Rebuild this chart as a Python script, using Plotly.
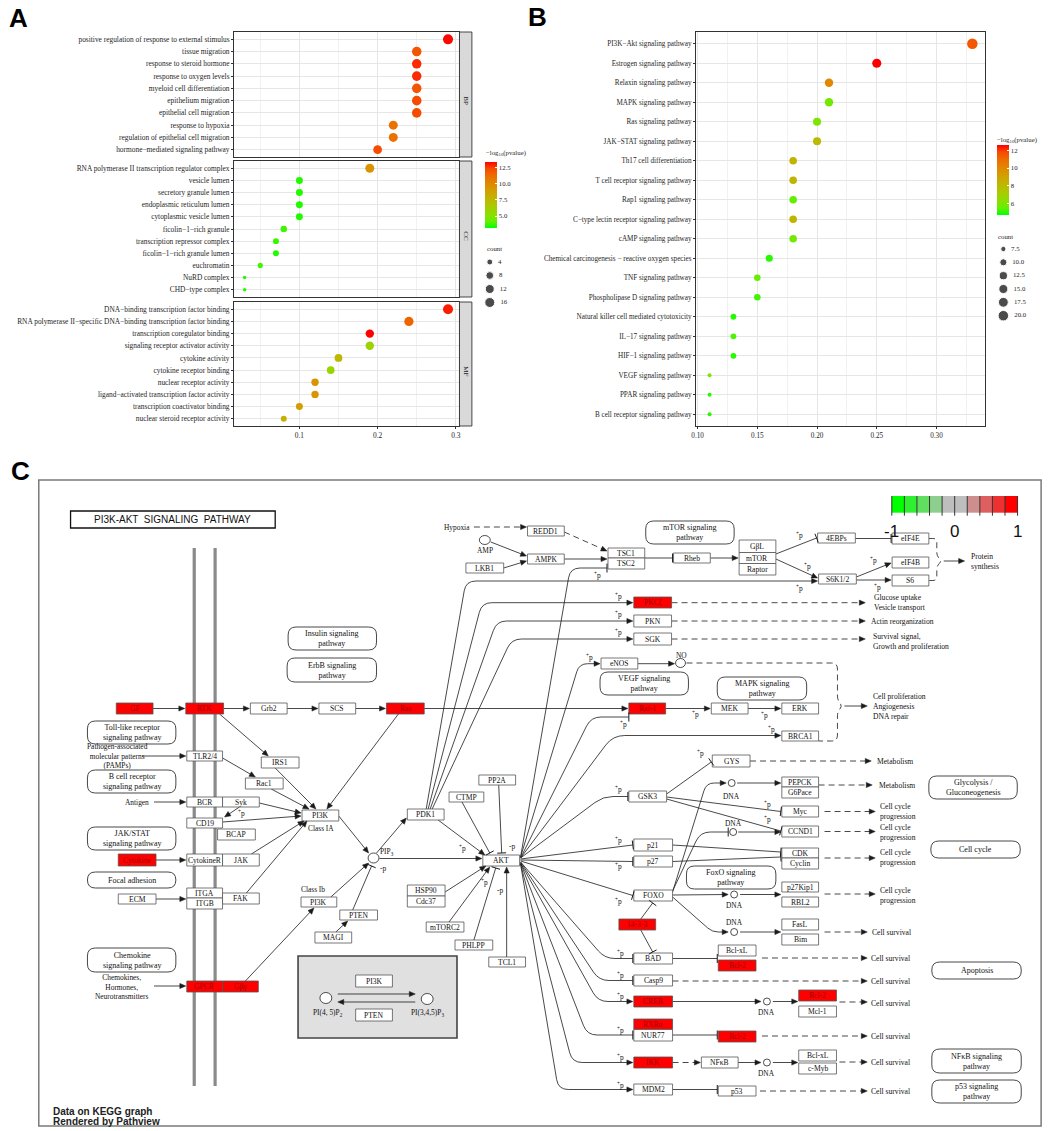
import math
import plotly.graph_objects as go

W, H = 1059, 1131
SERIF = "Liberation Serif"
SANS = "Liberation Sans"

# ====================== DATA: Panel A (GO enrichment) ======================
bp_terms = ["positive regulation of response to external stimulus", "tissue migration",
            "response to steroid hormone", "response to oxygen levels", "myeloid cell differentiation",
            "epithelium migration", "epithelial cell migration", "response to hypoxia",
            "regulation of epithelial cell migration", "hormone\u2212mediated signaling pathway"]
bp_ratio = [0.29, 0.25, 0.25, 0.25, 0.25, 0.25, 0.25, 0.22, 0.22, 0.20]
bp_logp = [13.3, 12.0, 12.8, 12.8, 12.0, 12.3, 12.3, 11.0, 11.0, 12.3]
bp_count = [16, 14, 14, 14, 14, 14, 14, 12, 12, 11]

cc_terms = ["RNA polymerase II transcription regulator complex", "vesicle lumen", "secretory granule lumen",
            "endoplasmic reticulum lumen", "cytoplasmic vesicle lumen", "ficolin\u22121\u2212rich granule",
            "transcription repressor complex", "ficolin\u22121\u2212rich granule lumen", "euchromatin",
            "NuRD complex", "CHD\u2212type complex"]
cc_ratio = [0.19, 0.10, 0.10, 0.10, 0.10, 0.08, 0.07, 0.07, 0.05, 0.03, 0.03]
cc_logp = [9.5, 3.5, 3.5, 3.5, 3.5, 3.8, 3.7, 3.5, 3.8, 3.5, 3.5]
cc_count = [12, 6, 6, 6, 6, 5, 4, 4, 3, 2, 2]

mf_terms = ["DNA\u2212binding transcription factor binding",
            "RNA polymerase II\u2212specific DNA\u2212binding transcription factor binding",
            "transcription coregulator binding", "signaling receptor activator activity", "cytokine activity",
            "cytokine receptor binding", "nuclear receptor activity",
            "ligand\u2212activated transcription factor activity", "transcription coactivator binding",
            "nuclear steroid receptor activity"]
mf_ratio = [0.29, 0.24, 0.19, 0.19, 0.15, 0.14, 0.12, 0.12, 0.10, 0.08]
mf_logp = [13.0, 11.5, 13.4, 6.0, 7.5, 5.8, 9.5, 9.5, 9.0, 8.0]
mf_count = [16, 13, 10, 10, 8, 8, 7, 7, 6, 4]

a_color_range = [3.15, 13.4]
a_color_ticks = [5.0, 7.5, 10.0, 12.5]
a_size_breaks = [4, 8, 12, 16]
a_x_ticks = [0.1, 0.2, 0.3]

# ====================== DATA: Panel B (KEGG enrichment) ======================
kegg_terms = ["PI3K\u2212Akt signaling pathway", "Estrogen signaling pathway", "Relaxin signaling pathway",
              "MAPK signaling pathway", "Ras signaling pathway", "JAK\u2212STAT signaling pathway",
              "Th17 cell differentiation", "T cell receptor signaling pathway", "Rap1 signaling pathway",
              "C\u2212type lectin receptor signaling pathway", "cAMP signaling pathway",
              "Chemical carcinogenesis \u2212 reactive oxygen species", "TNF signaling pathway",
              "Phospholipase D signaling pathway", "Natural killer cell mediated cytotoxicity",
              "IL\u221217 signaling pathway", "HIF\u22121 signaling pathway", "VEGF signaling pathway",
              "PPAR signaling pathway", "B cell receptor signaling pathway"]
kegg_ratio = [0.33, 0.25, 0.21, 0.21, 0.20, 0.20, 0.18, 0.18, 0.18, 0.18, 0.18, 0.16, 0.15, 0.15,
              0.13, 0.13, 0.13, 0.11, 0.11, 0.11]
kegg_logp = [11.5, 12.6, 10.0, 5.8, 6.0, 8.0, 8.2, 8.2, 5.5, 8.2, 5.8, 5.0, 5.5, 5.2, 5.0, 5.3, 5.0,
             6.0, 5.0, 5.0]
kegg_count = [20, 15, 13, 13, 12, 12, 11, 11, 11, 11, 11, 10, 9, 9, 8, 8, 8, 7, 7, 7]
b_color_range = [4.7, 12.6]
b_color_ticks = [6, 8, 10, 12]
b_size_breaks = [7.5, 10.0, 12.5, 15.0, 17.5, 20.0]
b_x_ticks = [0.10, 0.15, 0.20, 0.25, 0.30]

# ====================== DATA: Panel C (Pathview KEGG map) ======================
# (label, highlighted)  -- highlighted genes drawn red
kegg_nodes = [
    ("GF", 1), ("RTK", 1), ("Grb2", 0), ("SCS", 0), ("Ras", 1), ("Raf-1", 1), ("MEK", 0), ("ERK", 0),
    ("BRCA1", 0), ("TLR2/4", 0), ("IRS1", 0), ("Rac1", 0), ("BCR", 0), ("Syk", 0), ("CD19", 0),
    ("BCAP", 0), ("PI3K", 0), ("CytokineR", 0), ("JAK", 0), ("Cytokine", 1), ("ECM", 0), ("ITGA", 0),
    ("ITGB", 0), ("FAK", 0), ("PI3K", 0), ("PTEN", 0), ("MAGI", 0), ("GPCR", 1), ("G\u03b2\u03b3", 1),
    ("REDD1", 0), ("AMPK", 0), ("LKB1", 0), ("TSC1", 0), ("TSC2", 0), ("Rheb", 0), ("G\u03b2L", 0),
    ("mTOR", 0), ("Raptor", 0), ("4EBPs", 0), ("eIF4E", 0), ("eIF4B", 0), ("S6K1/2", 0), ("S6", 0),
    ("PKC\u03b6", 1), ("PKN", 0), ("SGK", 0), ("eNOS", 0), ("GYS", 0), ("PP2A", 0), ("CTMP", 0),
    ("GSK3", 0), ("PEPCK", 0), ("G6Pace", 0), ("PDK1", 0), ("AKT", 0), ("HSP90", 0), ("Cdc37", 0),
    ("mTORC2", 0), ("PHLPP", 0), ("TCL1", 0), ("p21", 0), ("p27", 0), ("FOXO", 0), ("14-3-3", 1),
    ("BAD", 0), ("Casp9", 0), ("CREB", 1), ("RXR\u03b1", 1), ("NUR77", 0), ("IKK", 1), ("MDM2", 0),
    ("NF\u03baB", 0), ("p53", 0), ("Myc", 0), ("CCND1", 0), ("CDK", 0), ("Cyclin", 0), ("p27Kip1", 0),
    ("RBL2", 0), ("FasL", 0), ("Bim", 0), ("Bcl-xL", 0), ("Bcl-2", 1), ("Bcl-2", 1), ("Mcl-1", 0),
    ("Bcl-2", 1), ("Bcl-xL", 0), ("c-Myb", 0), ("PI3K", 0), ("PTEN", 0),
]
kegg_maps = ["Insulin signaling<br>pathway", "ErbB signaling<br>pathway", "Toll-like receptor<br>signaling pathway",
             "B cell receptor<br>signaling pathway", "JAK/STAT<br>signaling pathway", "Focal adhesion",
             "Chemokine<br>signaling pathway", "mTOR signaling<br>pathway", "VEGF signaling<br>pathway",
             "MAPK signaling<br>pathway", "Glycolysis /<br>Gluconeogenesis", "FoxO signaling<br>pathway",
             "Cell cycle", "Apoptosis", "NF\u03baB signaling<br>pathway", "p53 signaling<br>pathway"]
kegg_outputs = ["Glucose uptake<br>Vesicle transport", "Actin reorganization",
                "Survival signal,<br>Growth and proliferation", "Cell proliferation<br>Angiogenesis<br>DNA repair",
                "Protein<br>synthesis", "Metabolism", "Metabolism", "Cell cycle<br>progression",
                "Cell cycle<br>progression", "Cell cycle<br>progression", "Cell cycle<br>progression",
                "Cell survival", "Cell survival", "Cell survival", "Cell survival", "Cell survival",
                "Cell survival", "Cell survival"]
key_labels = ["-1", "0", "1"]
key_values = [-1, 0, 1]

# ====================== diagram layout (pixel positions on the map) ======================
node_boxes = [
    (112, 703, 149, 714), (182, 703, 220, 714), (247, 703, 284, 714), (316, 703, 353, 714),
    (384, 703, 422, 714), (628, 703, 665, 714), (711, 703, 748, 714), (782, 703, 819, 714),
    (782, 731, 819, 741), (183, 751, 219, 761), (258, 757, 296, 768), (242, 778, 280, 789),
    (183, 797, 219, 807), (219, 797, 256, 807), (183, 818, 219, 828), (214, 829, 252, 840),
    (299, 810, 336, 821), (183, 854, 219, 866), (219, 854, 256, 866), (114, 854, 152, 866),
    (114, 894, 152, 904), (183, 888, 219, 898), (183, 898, 219, 909), (219, 893, 256, 904),
    (298, 897, 334, 907), (337, 910, 375, 920), (312, 932, 349, 943), (183, 981, 219, 992),
    (219, 981, 255, 992), (526, 526, 563, 536), (526, 554, 563, 564), (464, 563, 502, 573),
    (607, 548, 644, 558), (607, 558, 644, 569), (673, 553, 710, 563), (739, 540, 776, 552.5),
    (739, 552.5, 776, 563.5), (739, 563.5, 776, 575), (818, 533, 856, 543), (893, 533, 930, 544),
    (893, 557, 930, 568), (819, 574, 857, 584), (893, 575, 930, 586), (633, 597, 671, 608),
    (633, 615, 671, 627), (633, 633, 671, 645), (600, 658, 637, 669), (712, 755, 750, 767),
    (477, 775, 514, 785), (447, 792, 482, 802), (628, 791, 666, 802), (782, 777, 819, 787),
    (782, 787, 819, 798), (405, 809, 442, 820), (481, 855, 518, 866), (405, 885, 443, 896),
    (405, 896, 443, 907), (424, 922, 462, 932), (453, 940, 491, 950), (487, 957, 524, 967),
    (633, 839, 672, 851), (633, 856, 672, 867), (633, 890, 672, 901), (618, 919, 655, 930),
    (633, 953, 672, 964), (633, 975, 672, 986), (633, 996, 672, 1007), (633, 1019, 672, 1029.5),
    (633, 1029.5, 672, 1041), (633, 1057, 672, 1068), (633, 1084, 672, 1095), (701, 1057, 738, 1068),
    (718, 1086, 756, 1096), (782, 806, 819, 817), (782, 826, 819, 837), (782, 848, 819, 858),
    (782, 858, 819, 869), (782, 882, 819, 892), (782, 897, 819, 907), (782, 919, 819, 930),
    (782, 934, 819, 945), (718, 945, 756, 956), (718, 960, 756, 971), (799, 990, 837, 1001),
    (799, 1006, 837, 1017), (718, 1031, 756, 1042), (799, 1050, 837, 1061), (799, 1063, 837, 1074),
    (353, 975, 390, 987), (353, 1009, 390, 1021),
]
map_boxes = [
    (285, 627, 374, 650), (284, 658, 374, 682), (83, 721, 172, 744), (83, 770, 172, 793),
    (83, 827, 172, 850), (83, 872, 172, 888), (83, 948, 172, 972), (645, 521, 734, 544),
    (599, 672, 688, 695), (717, 677, 807, 700), (930, 776, 1019, 799), (686, 866, 776, 889),
    (932, 841, 1022, 858), (933, 962, 1023, 979), (933, 1049, 1023, 1073), (933, 1080, 1023, 1103),
]
output_pos = [(873, 602.5), (870, 621), (872, 641), (872, 706), (970, 561.5), (876, 761), (878, 785),
              (879, 811), (879, 832), (879, 857), (879, 895), (871, 932.5), (870, 958.5), (870, 981.5),
              (870, 1003), (870, 1036.5), (870, 1062.5), (870, 1091.5)]

# edges: (points, end type a=arrow i=inhibit n=none, dashed, corner radius)
edges = [
    ([(149, 708.5), (181, 708.5)], 'a', 0, 0), ([(220, 708.5), (246, 708.5)], 'a', 0, 0),
    ([(284, 708.5), (315, 708.5)], 'a', 0, 0), ([(353, 708.5), (383, 708.5)], 'a', 0, 0),
    ([(422, 708.5), (627, 708.5)], 'a', 0, 0), ([(665, 708.5), (710, 708.5)], 'a', 0, 0),
    ([(748, 708.5), (781, 708.5)], 'a', 0, 0),
    ([(216, 714), (265, 756)], 'a', 0, 0), ([(272, 768), (313, 809)], 'a', 0, 0),
    ([(138, 756), (182, 756)], 'a', 0, 0), ([(219, 758), (252, 777)], 'a', 0, 0),
    ([(268, 789), (306, 809)], 'a', 0, 0), ([(396, 714), (324, 809)], 'a', 0, 0),
    ([(150, 802), (182, 802)], 'a', 0, 0), ([(256, 803), (298, 813)], 'a', 0, 0),
    ([(236, 807), (221, 817)], 'a', 0, 0), ([(219, 822), (298, 816)], 'a', 0, 0),
    ([(152, 860), (182, 860)], 'a', 0, 0), ([(248, 854), (301, 821)], 'a', 0, 0),
    ([(152, 899), (182, 899)], 'a', 0, 0), ([(243, 893), (304, 821)], 'a', 0, 0),
    ([(150, 986), (182, 986)], 'a', 0, 0), ([(242, 981), (311, 908)], 'a', 0, 0),
    ([(336, 816), (366, 853)], 'a', 0, 0), ([(328, 897), (366, 863)], 'a', 0, 0),
    ([(350, 910), (369, 866)], 'i', 0, 0), ([(333, 932), (345, 921)], 'a', 0, 0),
    ([(374, 853), (404, 818)], 'a', 0, 0), ([(377, 858.5), (480, 858.5)], 'a', 0, 0),
    ([(436, 820), (483, 855)], 'a', 0, 0), ([(460, 802), (488, 853)], 'i', 0, 0),
    ([(497, 785), (500, 853)], 'i', 0, 0), ([(443, 892), (484, 866)], 'a', 0, 0),
    ([(447, 922), (488, 867)], 'a', 0, 0), ([(472, 940), (494, 868)], 'i', 0, 0),
    ([(505, 957), (505, 867)], 'a', 0, 0),
    # PDK1 fan
    ([(424, 809), (464, 581), (818, 581)], 'a', 0, 10), ([(426, 809), (480, 602.7), (632, 602.7)], 'a', 0, 10),
    ([(428, 809), (495, 621), (632, 621)], 'a', 0, 10), ([(430, 809), (510, 639), (632, 639)], 'a', 0, 10),
    # AKT fan
    ([(519, 857), (569, 568), (606, 568)], 'i', 0, 10), ([(519, 857), (578, 663.7), (599, 663.7)], 'a', 0, 9),
    ([(519, 858), (590, 717), (628, 717)], 'i', 0, 10), ([(519, 858), (612, 735.5), (781, 735.5)], 'a', 0, 12),
    ([(519, 858), (602, 796.5), (627, 796.5)], 'i', 0, 10), ([(519, 859), (632, 845)], 'i', 0, 0),
    ([(519, 860), (632, 861.5)], 'i', 0, 0), ([(519, 861), (632, 895.5)], 'i', 0, 0),
    ([(519, 862), (604, 958.5), (632, 958.5)], 'i', 0, 10), ([(519, 862), (598, 980.5), (632, 980.5)], 'i', 0, 10),
    ([(519, 863), (597, 1001.5), (632, 1001.5)], 'a', 0, 10), ([(519, 863), (586, 1035), (632, 1035)], 'i', 0, 10),
    ([(519, 864), (571, 1062.5), (632, 1062.5)], 'a', 0, 10), ([(519, 864), (557, 1089.5), (632, 1089.5)], 'a', 0, 10),
    # mTOR area
    ([(472, 527), (525, 527)], 'a', 1, 0), ([(563, 532), (606, 551)], 'a', 1, 0),
    ([(489, 542), (525, 556)], 'a', 0, 0), ([(502, 568), (525, 561)], 'a', 0, 0),
    ([(563, 559), (606, 559)], 'a', 0, 0), ([(644, 558), (672, 558)], 'i', 0, 0),
    ([(710, 558), (738, 558)], 'a', 0, 0), ([(776, 554), (817, 538)], 'i', 0, 0),
    ([(856, 538.5), (892, 538.5)], 'i', 0, 0), ([(776, 559), (818, 578)], 'a', 0, 0),
    ([(857, 577), (892, 563)], 'a', 0, 0), ([(857, 580), (892, 580)], 'a', 0, 0),
    ([(637, 663.7), (674, 663.7)], 'a', 0, 0),
    # GSK3 / FOXO targets
    ([(666, 794), (711, 762)], 'i', 0, 0), ([(666, 797), (781, 811.5)], 'i', 0, 0),
    ([(666, 799), (781, 831)], 'i', 0, 0),
    ([(672, 892), (706, 783), (726, 783)], 'a', 0, 10), ([(737, 783), (781, 783)], 'a', 0, 0),
    ([(672, 891), (700, 832), (728, 832)], 'i', 0, 10), ([(738, 832), (781, 832)], 'a', 0, 0),
    ([(672, 845), (781, 852)], 'i', 0, 0), ([(672, 861.5), (781, 857)], 'i', 0, 0),
    ([(672, 895), (728, 894.5)], 'a', 0, 0), ([(740, 894.5), (781, 894.5)], 'a', 0, 0),
    ([(672, 897), (712, 932), (728, 932)], 'a', 0, 10), ([(740, 932), (781, 932)], 'a', 0, 0),
    ([(640, 919), (652, 903)], 'i', 0, 0), ([(640, 930), (652, 952)], 'i', 0, 0),
    ([(672, 958.5), (717, 958.5)], 'i', 0, 0), ([(672, 1001.5), (761, 1001.5)], 'a', 0, 0),
    ([(773, 1001.5), (798, 1001.5)], 'a', 0, 0), ([(672, 1035), (717, 1035)], 'i', 0, 0),
    ([(672, 1062.5), (700, 1062.5)], 'a', 1, 0), ([(738, 1062.5), (761, 1062.5)], 'a', 0, 0),
    ([(773, 1062.5), (798, 1062.5)], 'a', 0, 0), ([(672, 1089.5), (717, 1089.5)], 'i', 0, 0),
    # dashed outputs
    ([(671, 602.7), (866, 602.7)], 'a', 1, 0), ([(671, 621), (866, 621)], 'a', 1, 0),
    ([(671, 639), (866, 639)], 'a', 1, 0), ([(750, 761), (872, 761)], 'a', 1, 0),
    ([(819, 785), (873, 785)], 'a', 1, 0), ([(825, 811.5), (876, 811.5)], 'a', 1, 0),
    ([(825, 831.5), (876, 831.5)], 'a', 1, 0), ([(825, 858), (876, 858)], 'a', 1, 0),
    ([(825, 894), (876, 894)], 'a', 1, 0), ([(825, 932), (868, 932)], 'a', 1, 0),
    ([(762, 958), (868, 958)], 'a', 1, 0), ([(672, 981), (868, 981)], 'a', 1, 0),
    ([(840, 1002), (868, 1002)], 'a', 1, 0), ([(762, 1036), (868, 1036)], 'a', 1, 0),
    ([(840, 1062), (868, 1062)], 'a', 1, 0), ([(760, 1091), (868, 1091)], 'a', 1, 0),
    # brackets
    ([(686, 663), (838, 663), (838, 700), (843, 706), (838, 712), (838, 741), (819, 741)], 'n', 1, 6),
    ([(845, 706), (868, 706)], 'a', 0, 0),
    ([(930, 538.5), (938, 538.5), (938, 556), (943, 561), (938, 566), (938, 580.5), (930, 580.5)], 'n', 1, 5),
    ([(945, 561), (966, 561)], 'a', 0, 0),
    # PI3K / PTEN box
    ([(335, 994), (413, 994)], 'a', 0, 0), ([(413, 1002), (335, 1002)], 'a', 0, 0),
]
compounds = [(483, 540, 5.5, 4.5), (680, 663, 5, 4.5), (371, 858, 5.5, 5), (323, 998, 6, 5.5),
             (425, 999, 6, 5.5), (731.5, 783, 3.5, 3.5), (733, 832, 3.5, 3.5), (734, 894.5, 3.5, 3.5),
             (734, 932, 3.5, 3.5), (767, 1001.5, 3.5, 3.5), (767, 1062.5, 3.5, 3.5)]
free_text = [
    ("Hypoxia", 455, 527, 'center'), ("AMP", 483, 550.5, 'center'), ("NO", 681, 655, 'center'),
    ("PIP<sub>3</sub>", 385, 852, 'center'), ("Class IA", 318, 828.5, 'center'),
    ("Class Ib", 310, 889, 'center'), ("PI(4, 5)P<sub>2</sub>", 325, 1013, 'center'),
    ("PI(3,4,5)P<sub>3</sub>", 425, 1013, 'center'), ("Antigen", 147, 802, 'right'),
    ("Pathogen-associated<br>molecular patterns<br>(PAMPs)", 81, 756, 'left'),
    ("Chemokines,<br>Hormones,<br>Neurotransmitters", 89, 987, 'left'),
    ("DNA", 731.5, 796, 'center'), ("DNA", 733, 823, 'center'), ("DNA", 734, 905, 'center'),
    ("DNA", 734, 922, 'center'), ("DNA", 767, 1012, 'center'), ("DNA", 767, 1073, 'center'),
]
plus_p = [(800, 535), (808, 566), (800, 588), (874, 560), (878, 587), (618, 596), (618, 614), (618, 632),
          (588, 657), (596, 575), (623, 724), (695, 714), (765, 715), (772, 729), (700, 753), (618, 789),
          (768, 804), (768, 819), (618, 840), (618, 866), (618, 901), (620, 953), (620, 975), (620, 996),
          (620, 1030), (620, 1057), (620, 1085), (461, 848), (483, 882), (238, 813)]
minus_p = [(381, 868), (510, 846), (498, 890)]


# ====================== helpers ======================
def px_x(x):
    return x / W


def px_y(y):
    return 1 - y / H


def _lin(c):
    c = c / 255.0
    return c / 12.92 if c <= 0.04045 else ((c + 0.055) / 1.055) ** 2.4


def _srgb(c):
    c = 12.92 * c if c <= 0.0031308 else 1.055 * (max(c, 0) ** (1 / 2.4)) - 0.055
    return int(max(0, min(255, round(c * 255))))


def rgb2lab(rgb):
    R, G, B = [_lin(v) for v in rgb]
    X = (0.4124 * R + 0.3576 * G + 0.1805 * B) / 0.95047
    Y = (0.2126 * R + 0.7152 * G + 0.0722 * B)
    Z = (0.0193 * R + 0.1192 * G + 0.9505 * B) / 1.08883
    f = lambda t: t ** (1 / 3) if t > 0.008856 else 7.787 * t + 16 / 116
    fx, fy, fz = f(X), f(Y), f(Z)
    return 116 * fy - 16, 500 * (fx - fy), 200 * (fy - fz)


def lab2rgb(L, a, b):
    fy = (L + 16) / 116
    fx = fy + a / 500
    fz = fy - b / 200
    inv = lambda t: t ** 3 if t ** 3 > 0.008856 else (t - 16 / 116) / 7.787
    X, Y, Z = 0.95047 * inv(fx), inv(fy), 1.08883 * inv(fz)
    R = 3.2406 * X - 1.5372 * Y - 0.4986 * Z
    G = -0.9689 * X + 1.8758 * Y + 0.0415 * Z
    Bc = 0.0557 * X - 0.2040 * Y + 1.0570 * Z
    return _srgb(R), _srgb(G), _srgb(Bc)


lo, hi = rgb2lab((0, 255, 0)), rgb2lab((255, 0, 0))
colorscale = []
for i in range(11):
    t = i / 10
    r, g, b = lab2rgb(*[lo[k] + (hi[k] - lo[k]) * t for k in range(3)])
    colorscale.append([t, f"rgb({r},{g},{b})"])


def size_scale(vals, lo_px, hi_px, vmin, vmax):
    return [lo_px + (hi_px - lo_px) * math.sqrt(max(0.0, (v - vmin) / (vmax - vmin))) for v in vals]


a_all = bp_count + cc_count + mf_count
a_min, a_max = min(a_all), max(a_all)
b_min, b_max = min(kegg_count), max(kegg_count)


def sizeA(v):
    return size_scale(v, 3.5, 10.0, a_min, a_max)


def sizeB(v):
    return size_scale(v, 4.0, 10.5, b_min, b_max)


fig = go.Figure()

TICKFONT_A = dict(family=SERIF, size=7.4, color="#262626")
TICKFONT_B = dict(family=SERIF, size=7.2, color="#262626")
GRID = "#E6E6E6"
MINOR = "#F1F1F1"

# ---------------- Panel A ----------------
a_panels = [("", bp_terms, bp_ratio, bp_logp, bp_count, 32, 157, "BP"),
            ("2", cc_terms, cc_ratio, cc_logp, cc_count, 161, 297, "CC"),
            ("3", mf_terms, mf_ratio, mf_logp, mf_count, 302, 426, "MF")]
layout_axes = {}
shapes = []
annots = []
for sfx, terms, ratio, logp, cnt, top, bot, strip in a_panels:
    fig.add_trace(go.Scatter(x=ratio, y=terms, mode="markers", xaxis="x" + sfx, yaxis="y" + sfx,
                             marker=dict(size=sizeA(cnt), color=logp, coloraxis="coloraxis",
                                         line=dict(width=0), opacity=1),
                             showlegend=False, hoverinfo="x+y"))
    last = sfx == "3"
    layout_axes["xaxis" + sfx] = dict(
        domain=[px_x(231), px_x(457)], anchor="y" + sfx, range=[0.017, 0.304],
        tickvals=a_x_ticks, ticktext=["0.1", "0.2", "0.3"], showticklabels=last,
        ticks="outside" if last else "", ticklen=2.5, tickcolor="#333", tickwidth=0.8,
        tickfont=TICKFONT_A, showgrid=True, gridcolor=GRID, gridwidth=1,
        minor=dict(tickvals=[0.05, 0.15, 0.25], showgrid=True, gridcolor=MINOR, gridwidth=0.6, ticks=""),
        showline=True, mirror=True, linecolor="#333", linewidth=0.9, zeroline=False, fixedrange=True)
    layout_axes["yaxis" + sfx] = dict(
        domain=[px_y(bot), px_y(top)], anchor="x" + sfx, type="category", categoryorder="array",
        categoryarray=terms, range=[len(terms) - 0.4, -0.6], ticks="outside", ticklen=2.5,
        tickcolor="#333", tickwidth=0.8, tickfont=TICKFONT_A, showgrid=True, gridcolor=GRID,
        gridwidth=1, showline=True, mirror=True, linecolor="#333", linewidth=0.9, zeroline=False,
        fixedrange=True)
    shapes.append(dict(type="rect", xref="paper", yref="paper", x0=px_x(457.5), x1=px_x(470),
                       y0=px_y(bot), y1=px_y(top), fillcolor="#D9D9D9", line=dict(color="#333", width=0.9)))
    annots.append(dict(xref="paper", yref="paper", x=px_x(463.8), y=px_y((top + bot) / 2), text=strip,
                       textangle=90, showarrow=False, font=dict(family=SERIF, size=7, color="#1a1a1a")))

# ---------------- Panel B ----------------
fig.add_trace(go.Scatter(x=kegg_ratio, y=kegg_terms, mode="markers", xaxis="x5", yaxis="y5",
                         marker=dict(size=sizeB(kegg_count), color=kegg_logp, coloraxis="coloraxis2",
                                     line=dict(width=0), opacity=1),
                         showlegend=False, hoverinfo="x+y"))
layout_axes["xaxis5"] = dict(
    domain=[px_x(696), px_x(987)], anchor="y5", range=[0.099, 0.341], tickvals=b_x_ticks,
    ticktext=["%.2f" % v for v in b_x_ticks], ticks="outside", ticklen=2.5, tickcolor="#333",
    tickwidth=0.8, tickfont=TICKFONT_B, showgrid=True, gridcolor=GRID, gridwidth=1,
    minor=dict(tickvals=[0.125, 0.175, 0.225, 0.275, 0.325], showgrid=True, gridcolor=MINOR,
               gridwidth=0.6, ticks=""),
    showline=True, mirror=True, linecolor="#333", linewidth=0.9, zeroline=False, fixedrange=True)
layout_axes["yaxis5"] = dict(
    domain=[px_y(426), px_y(32)], anchor="x5", type="category", categoryorder="array",
    categoryarray=kegg_terms, range=[len(kegg_terms) - 0.4, -0.6], ticks="outside", ticklen=2.5,
    tickcolor="#333", tickwidth=0.8, tickfont=TICKFONT_B, showgrid=True, gridcolor=GRID, gridwidth=1,
    showline=True, mirror=True, linecolor="#333", linewidth=0.9, zeroline=False, fixedrange=True)

# ---------------- overlay axis in pixel units (legends + pathway map) ----------------
layout_axes["xaxis4"] = dict(domain=[0, 1], anchor="y4", range=[0, W], visible=False, fixedrange=True)
layout_axes["yaxis4"] = dict(domain=[0, 1], anchor="x4", range=[H, 0], visible=False, fixedrange=True)

LEG_FONT = dict(family=SERIF, size=6.8, color="#262626")
# count legends
fig.add_trace(go.Scatter(x=[488] * len(a_size_breaks), y=[262, 275.5, 289, 302.5], mode="markers+text",
                         xaxis="x4", yaxis="y4", marker=dict(size=sizeA(a_size_breaks), color="black"),
                         text=["  %d" % v for v in a_size_breaks], textposition="middle right",
                         textfont=LEG_FONT, showlegend=False, hoverinfo="skip"))
fig.add_trace(go.Scatter(x=[1005] * len(b_size_breaks), y=[249, 262.3, 275.7, 289, 302.3, 315.7],
                         mode="markers+text", xaxis="x4", yaxis="y4",
                         marker=dict(size=sizeB(b_size_breaks), color="black"),
                         text=["  %.1f" % v for v in b_size_breaks], textposition="middle right",
                         textfont=LEG_FONT, showlegend=False, hoverinfo="skip"))
for (x, y, s) in [(483, 248, "count"), (998, 236, "count"),
                  (482, 153, "\u2212log<sub>10</sub>(pvalue)"), (997, 140, "\u2212log<sub>10</sub>(pvalue)")]:
    annots.append(dict(xref="x4", yref="y4", x=x, y=y, text=s, showarrow=False, xanchor="left",
                       yanchor="middle", font=LEG_FONT))

# panel letters
for (x, y, s) in [(14, 18, "A"), (536, 17, "B"), (16, 471, "C")]:
    annots.append(dict(xref="x4", yref="y4", x=x, y=y, text="<b>%s</b>" % s, showarrow=False,
                       font=dict(family=SANS, size=26, color="black")))

# ---------------- pathway map ----------------
LINE = "#1a1a1a"
D = dict(xref="x4", yref="y4")


def add_shape(**kw):
    s = dict(D)
    s.update(kw)
    shapes.append(s)


# frame and title
add_shape(type="rect", x0=34, y0=480, x1=1043, y1=1126, line=dict(color="#7a7a7a", width=1.5))
add_shape(type="rect", x0=66, y0=511, x1=272, y1=528, line=dict(color="#111", width=1.3), fillcolor="white")
annots.append(dict(D, x=169, y=519.5, text="PI3K-AKT  SIGNALING  PATHWAY", showarrow=False,
                   font=dict(family=SANS, size=10, color="#111")))
# membrane
for mx in (190.5, 211.5):
    add_shape(type="line", x0=mx, y0=548, x1=mx, y1=1086, line=dict(color="#8a8a8a", width=3.2))
# grey PI3K/PTEN box
add_shape(type="rect", x0=295, y0=956, x1=455, y1=1038, fillcolor="#E0E0E0", line=dict(color="#444", width=1.6))


def poly_path(pts, r):
    d = "M %.2f,%.2f" % pts[0]
    for i in range(1, len(pts) - 1):
        (ax, ay), (qx, qy), (bx, by) = pts[i - 1], pts[i], pts[i + 1]
        l1 = math.hypot(qx - ax, qy - ay)
        l2 = math.hypot(bx - qx, by - qy)
        rr = min(r, l1 / 2, l2 / 2)
        if rr <= 0.01:
            d += " L %.2f,%.2f" % (qx, qy)
            continue
        sx, sy = qx - (qx - ax) / l1 * rr, qy - (qy - ay) / l1 * rr
        ex, ey = qx + (bx - qx) / l2 * rr, qy + (by - qy) / l2 * rr
        d += " L %.2f,%.2f Q %.2f,%.2f %.2f,%.2f" % (sx, sy, qx, qy, ex, ey)
    d += " L %.2f,%.2f" % pts[-1]
    return d


heads = []
for pts, end, dashed, rad in edges:
    (x0, y0), (x1, y1) = pts[-2], pts[-1]
    L = math.hypot(x1 - x0, y1 - y0)
    ux, uy = (x1 - x0) / L, (y1 - y0) / L
    pts2 = list(pts)
    if end == 'a':
        pts2[-1] = (x1 - ux * 4, y1 - uy * 4)
    add_shape(type="path", path=poly_path(pts2, rad),
              line=dict(color=LINE, width=0.8, dash="6px,4px" if dashed else "solid"))
    nx, ny = -uy, ux
    if end == 'a':
        AL, AW = 6.0, 2.6
        bx, by = x1 - ux * AL, y1 - uy * AL
        heads.append(dict(type="path", path="M %.2f,%.2f L %.2f,%.2f L %.2f,%.2f Z" % (
            x1, y1, bx + nx * AW, by + ny * AW, bx - nx * AW, by - ny * AW), fillcolor=LINE,
            line=dict(color=LINE, width=0.5)))
    elif end == 'i':
        heads.append(dict(type="line", x0=x1 + nx * 4.5, y0=y1 + ny * 4.5, x1=x1 - nx * 4.5,
                          y1=y1 - ny * 4.5, line=dict(color=LINE, width=1.0)))


def rrect_path(x0, y0, x1, y1, r=8):
    r = min(r, (y1 - y0) / 2)
    return ("M %s,%s L %s,%s Q %s,%s %s,%s L %s,%s Q %s,%s %s,%s L %s,%s Q %s,%s %s,%s "
            "L %s,%s Q %s,%s %s,%s Z") % (x0 + r, y0, x1 - r, y0, x1, y0, x1, y0 + r, x1, y1 - r, x1, y1,
                                           x1 - r, y1, x0 + r, y1, x0, y1, x0, y1 - r, x0, y0 + r, x0, y0,
                                           x0 + r, y0)


for label, (x0, y0, x1, y1) in zip(kegg_maps, map_boxes):
    add_shape(type="path", path=rrect_path(x0, y0, x1, y1), fillcolor="white",
              line=dict(color="#333", width=0.9))
    annots.append(dict(D, x=(x0 + x1) / 2, y=(y0 + y1) / 2, text=label, showarrow=False,
                       font=dict(family=SERIF, size=8, color="#111")))

for (label, hit), (x0, y0, x1, y1) in zip(kegg_nodes, node_boxes):
    add_shape(type="rect", x0=x0, y0=y0, x1=x1, y1=y1, fillcolor="#FF0000" if hit else "white",
              line=dict(color="#555", width=0.8))
    annots.append(dict(D, x=(x0 + x1) / 2, y=(y0 + y1) / 2 + 0.3, text=label, showarrow=False,
                       font=dict(family=SERIF, size=7.6, color="#9a0000" if hit else "#111")))

for h in heads:
    add_shape(**h)

for (cx, cy, rx, ry) in compounds:
    add_shape(type="circle", x0=cx - rx, y0=cy - ry, x1=cx + rx, y1=cy + ry, fillcolor="white",
              line=dict(color="#222", width=0.8))

for s, x, y, anc in free_text:
    annots.append(dict(D, x=x, y=y, text=s, showarrow=False, xanchor=anc,
                       font=dict(family=SERIF, size=7.4, color="#111")))
for s, (x, y) in zip(kegg_outputs, output_pos):
    annots.append(dict(D, x=x, y=y, text=s, showarrow=False, xanchor="left", align="left",
                       font=dict(family=SERIF, size=7.6, color="#111")))
for (x, y) in plus_p:
    annots.append(dict(D, x=x, y=y, text="<sup>+</sup>p", showarrow=False,
                       font=dict(family=SERIF, size=7.4, color="#111")))
for (x, y) in minus_p:
    annots.append(dict(D, x=x, y=y, text="-p", showarrow=False, font=dict(family=SERIF, size=7.4, color="#111")))

# colour key (pathview): green -> grey -> red
kx0, kx1, ky0, ky1 = 892.7, 1019.3, 496, 512.7
n_cells = 10
cw = (kx1 - kx0) / n_cells
for i in range(n_cells):
    if i < 5:
        c0, c1, t = (0, 255, 0), (190, 190, 190), i / 4.0
    else:
        c0, c1, t = (190, 190, 190), (255, 0, 0), (i - 5) / 4.0
    col = tuple(int(round(c0[k] + (c1[k] - c0[k]) * t)) for k in range(3))
    add_shape(type="rect", x0=kx0 + i * cw, x1=kx0 + (i + 1) * cw, y0=ky0, y1=ky1,
              fillcolor="rgb(%d,%d,%d)" % col, line=dict(width=0))
for i in range(n_cells + 1):
    add_shape(type="line", x0=kx0 + i * cw, x1=kx0 + i * cw, y0=ky0, y1=ky1 + 3,
              line=dict(color="#333", width=1))
for s, v in zip(key_labels, key_values):
    annots.append(dict(D, x=kx0 + (v + 1) / 2 * (kx1 - kx0), y=531, text=s, showarrow=False,
                       font=dict(family=SANS, size=17, color="#111")))

annots.append(dict(D, x=46, y=1111.5, text="<b>Data on KEGG graph</b>", showarrow=False, xanchor="left",
                   font=dict(family=SANS, size=10, color="#222")))
annots.append(dict(D, x=46, y=1121.5, text="<b>Rendered by Pathview</b>", showarrow=False, xanchor="left",
                   font=dict(family=SANS, size=10, color="#222")))

CB_FONT = dict(family=SERIF, size=6.8, color="#262626")
fig.update_layout(
    width=W, height=H, autosize=False, margin=dict(l=0, r=0, t=0, b=0),
    paper_bgcolor="white", plot_bgcolor="rgba(0,0,0,0)", showlegend=False,
    coloraxis=dict(colorscale=colorscale, cmin=a_color_range[0], cmax=a_color_range[1],
                   colorbar=dict(x=px_x(483), xanchor="left", y=px_y(162), yanchor="top",
                                 len=66, lenmode="pixels", thickness=12, thicknessmode="pixels",
                                 xpad=0, ypad=0, outlinewidth=0, tickvals=a_color_ticks,
                                 ticktext=["%.1f" % v for v in a_color_ticks], ticks="inside",
                                 ticklen=2, tickcolor="white", tickfont=CB_FONT)),
    coloraxis2=dict(colorscale=colorscale, cmin=b_color_range[0], cmax=b_color_range[1],
                    colorbar=dict(x=px_x(999), xanchor="left", y=px_y(145), yanchor="top",
                                  len=70, lenmode="pixels", thickness=12, thicknessmode="pixels",
                                  xpad=0, ypad=0, outlinewidth=0, tickvals=b_color_ticks,
                                  ticktext=[str(v) for v in b_color_ticks], ticks="inside",
                                  ticklen=2, tickcolor="white", tickfont=CB_FONT)),
    shapes=shapes, annotations=annots, **layout_axes)

fig.write_html("out.html", config={"displayModeBar": False},
               post_script="document.body.style.margin='0';document.body.style.overflow='hidden';")
